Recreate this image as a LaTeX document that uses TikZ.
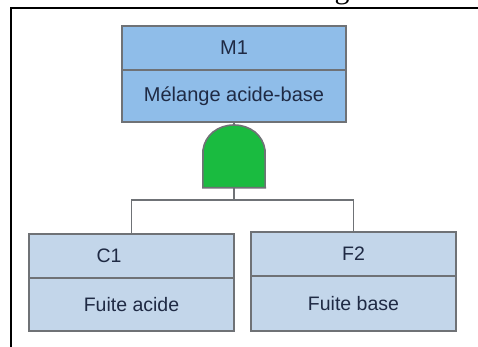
\documentclass[tikz,border=0pt]{standalone}
\usepackage{fontspec}
\setmainfont{Liberation Sans}
\newfontfamily\topfont{Liberation Serif}
\definecolor{edgegray}{HTML}{6F7276}
\definecolor{topblue}{HTML}{8FBDE9}
\definecolor{lowblue}{HTML}{C3D6EA}
\definecolor{gategreen}{HTML}{1ABB40}
\definecolor{inkblue}{HTML}{1F2A44}
\tikzset{
topcell/.style={draw=edgegray,line width=1.8pt,fill=topblue,minimum width=224pt,inner sep=0pt,text=inkblue,font=\fontsize{20}{24}\selectfont},
lowcell/.style={draw=edgegray,line width=1.8pt,fill=lowblue,minimum width=205pt,inner sep=0pt,text=inkblue,font=\fontsize{19.5}{24}\selectfont},
wire/.style={draw=edgegray,line width=1.6pt},
}
\begin{document}
\begin{tikzpicture}[x=1pt,y=-1pt]
\useasboundingbox(0,0)rectangle(478,347);
\node[inner sep=0pt,font=\topfont\fontsize{30}{30}\selectfont](head)at(342,-6){g};
\draw[line width=2pt](478,8.5)--(10.5,8.5)--(10.5,347);
\node[topcell,minimum height=44pt](M1)at(234,48){M1};
\node[topcell,minimum height=52pt](M1text)at(234,96){Mélange acide-base};
\node[minimum width=62pt,minimum height=62pt,inner sep=0pt](gate)at(234,156.5){};
\draw[wire](M1text.south)--(gate.north);
\draw[wire,fill=gategreen](gate.south west)--(gate.south east)--(265,150)..controls(263,135)and(250,125)..(234,125)..controls(218,125)and(205,135)..(203,150)--cycle;
\node[lowcell,minimum height=44pt](C1)at(131.5,256){};
\node[lowcell,minimum height=53pt](C1text)at(131.5,304.5){Fuite acide};
\node[inner sep=0pt,text=inkblue,font=\fontsize{19.5}{24}\selectfont](C1name)at(109,256){C1};
\node[lowcell,minimum height=44pt](F2)at(353.5,254){F2};
\node[lowcell,minimum height=55pt](F2text)at(353.5,303.5){Fuite base};
\coordinate(bar)at(234,200);
\draw[wire](gate.south)--(bar);
\draw[wire](C1.north)|-(bar)-|(F2.north);
\end{tikzpicture}
\end{document}
